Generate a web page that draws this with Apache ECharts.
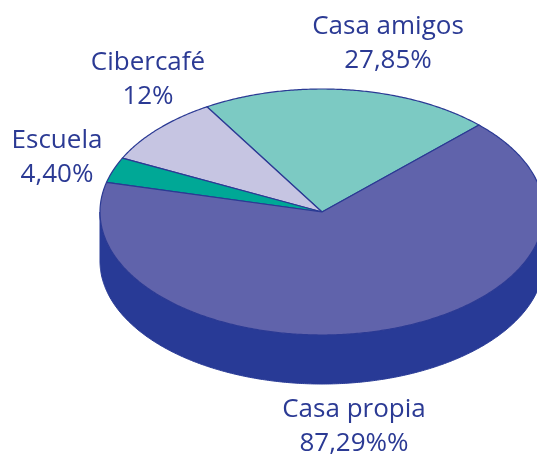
<!DOCTYPE html>
<html>
<head>
    <meta charset="utf-8">
    <title>ECharts</title>
    <script src="https://cdn.jsdelivr.net/npm/echarts@6/dist/echarts.min.js"></script>
    <style>html,body{margin:0;padding:0;background:#fff;overflow:hidden}</style>
</head>
<body>
    <div id="main" style="width:537px;height:456px;"></div>
    <script type="text/javascript">
        var categories = ['Casa amigos', 'Cibercafé', 'Escuela', 'Casa propia'];
        var values = [27.85, 12, 4.40, 87.29];
        var valueLabels = ['27,85%', '12%', '4,40%', '87,29%%'];
        var colors = ['#7ccac3', '#c6c5e2', '#00a896', '#6063ab'];
        var labelCenters = [[388, 44], [148, 80], [57, 158], [354, 427]];

        var lineColor = '#2b3a94';
        var wallColor = '#283a96';
        var startAngle = 45;
        var wallDepth = 49 / 123; // depth in units of the vertical radius

        var myChart = echarts.init(document.getElementById('main'));

        var total = values.reduce(function (a, b) { return a + b; }, 0);

        // ellipse arc from a1 to a2 (degrees, counter-clockwise), as pixel points
        function arc(api, a1, a2, dy) {
            var pts = [];
            for (var a = a1; a < a2; a += 0.5) {
                pts.push(api.coord([Math.cos(a * Math.PI / 180), Math.sin(a * Math.PI / 180) - dy]));
            }
            pts.push(api.coord([Math.cos(a2 * Math.PI / 180), Math.sin(a2 * Math.PI / 180) - dy]));
            return pts;
        }

        function renderWall(params, api) {
            var pts = arc(api, 180, 360, 0).concat(arc(api, 180, 360, wallDepth).reverse());
            return {
                type: 'polygon',
                shape: { points: pts },
                style: { fill: wallColor, stroke: wallColor, lineWidth: 1 }
            };
        }

        function renderSlice(params, api) {
            var before = 0;
            for (var i = 0; i < params.dataIndex; i++) before += values[i];
            var a1 = startAngle + before / total * 360;
            var a2 = a1 + api.value(0) / total * 360;
            var pts = [api.coord([0, 0])].concat(arc(api, a1, a2, 0));
            return {
                type: 'polygon',
                shape: { points: pts },
                style: { fill: colors[params.dataIndex], stroke: lineColor, lineWidth: 1.2, lineJoin: 'round' }
            };
        }

        var labels = categories.map(function (name, i) {
            return {
                type: 'text',
                x: labelCenters[i][0],
                y: labelCenters[i][1],
                style: {
                    text: name + '\n' + valueLabels[i],
                    x: 0,
                    y: 0,
                    align: 'center',
                    verticalAlign: 'middle',
                    font: '400 26px "Open Sans"',
                    lineHeight: 34,
                    fill: '#2b3a94'
                }
            };
        });

        var option = {
            animation: false,
            backgroundColor: '#fff',
            // pie runs past the right edge of the page, so the grid stops at the edge
            grid: { left: 100, top: 89, right: 0, height: 246 },
            xAxis: { type: 'value', min: -1, max: 437 / 222 - 1, show: false },
            yAxis: { type: 'value', min: -1, max: 1, show: false },
            graphic: labels,
            series: [
                {
                    name: 'wall',
                    type: 'custom',
                    clip: false,
                    renderItem: renderWall,
                    data: [[1]],
                    encode: { x: 0, y: 0 }
                },
                {
                    name: 'slices',
                    type: 'custom',
                    clip: false,
                    renderItem: renderSlice,
                    data: values.map(function (v) { return [v]; }),
                    encode: { x: [], y: [] }
                }
            ]
        };

        myChart.setOption(option);
    </script>
</body>
</html>
